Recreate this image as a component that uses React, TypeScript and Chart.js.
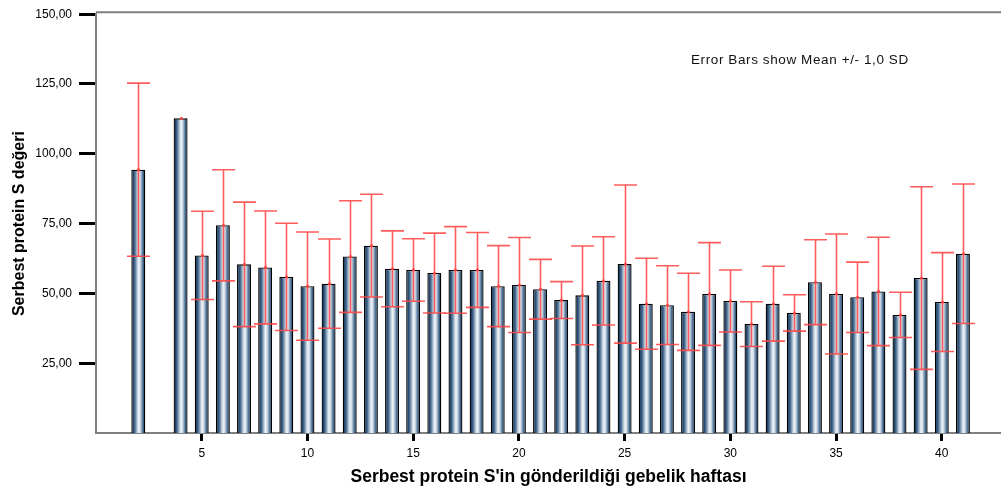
import React, { useEffect, useRef } from "react";
import { Chart, registerables } from "chart.js";

Chart.register(...registerables);

// Gestational week of sampling
const weeks = [2, 4, 5, 6, 7, 8, 9, 10, 11, 12, 13, 14, 15, 16, 17, 18, 19, 20, 21, 22, 23, 24, 25, 26, 27, 28, 29, 30, 31, 32, 33, 34, 35, 36, 37, 38, 39, 40, 41];

// Mean free protein S value per week
const means = [94.3, 112.7, 63.6, 74.4, 60.4, 59.3, 55.9, 52.6, 53.5, 63.2, 67.1, 58.8, 58.4, 57.3, 58.4, 58.4, 52.6, 53.0, 51.5, 47.6, 49.3, 54.5, 60.5, 46.3, 45.8, 43.4, 49.8, 47.3, 39.0, 46.3, 43.0, 54.0, 49.8, 48.6, 50.7, 42.3, 55.5, 46.9, 64.2];

// Standard deviation per week (null: single observation)
const sds: (number | null)[] = [31.0, null, 15.8, 19.9, 22.3, 20.2, 19.2, 19.4, 16.0, 20.0, 18.4, 13.6, 11.2, 14.3, 15.5, 13.4, 14.5, 17.0, 10.7, 6.6, 17.7, 15.8, 28.3, 16.3, 14.1, 13.8, 18.4, 11.1, 8.0, 13.4, 6.5, 15.2, 21.5, 12.6, 19.4, 8.1, 32.7, 17.7, 25.0];

const yTicks = [25, 50, 75, 100, 125, 150];
const xTicks = [5, 10, 15, 20, 25, 30, 35, 40];

const yTitle = "Serbest protein S değeri";
const xTitle = "Serbest protein S'in gönderildiği gebelik haftası";
const noteText = "Error Bars show Mean +/- 1,0 SD";

const FONT = "'Liberation Sans', Arial, sans-serif";
const BAR_PCT = 0.66;
const ERR_COLOR = "rgba(255, 70, 70, 0.88)";

const errorBarPlugin = {
  id: "errorBars",
  afterDatasetsDraw(chart: any) {
    const xs = chart.scales.x;
    const ys = chart.scales.y;
    const ctx = chart.ctx;
    ctx.save();
    ctx.strokeStyle = ERR_COLOR;
    ctx.fillStyle = ERR_COLOR;
    ctx.lineWidth = 1.6;
    const capHalf = 11.5;
    weeks.forEach((w, i) => {
      const x = Math.round(xs.getPixelForValue(w)) + 0.5;
      const m = means[i];
      const sd = sds[i];
      if (sd != null) {
        const yt = ys.getPixelForValue(m + sd);
        const yb = ys.getPixelForValue(m - sd);
        ctx.beginPath();
        ctx.moveTo(x, yt);
        ctx.lineTo(x, yb);
        ctx.moveTo(x - capHalf, yt);
        ctx.lineTo(x + capHalf, yt);
        ctx.moveTo(x - capHalf, yb);
        ctx.lineTo(x + capHalf, yb);
        ctx.stroke();
      }
      ctx.beginPath();
      ctx.arc(x, ys.getPixelForValue(m), 1.6, 0, Math.PI * 2);
      ctx.fill();
    });
    ctx.restore();
  },
};

const framePlugin = {
  id: "frame",
  afterDraw(chart: any) {
    const { ctx, chartArea } = chart;
    ctx.save();
    ctx.strokeStyle = "#808080";
    ctx.lineWidth = 2;
    ctx.beginPath();
    ctx.moveTo(chartArea.left, chartArea.top - 2);
    ctx.lineTo(chartArea.right, chartArea.top - 2);
    ctx.stroke();
    ctx.fillStyle = "#111";
    ctx.font = `13.5px ${FONT}`;
    (ctx as any).letterSpacing = "0.6px";
    ctx.textBaseline = "middle";
    ctx.textAlign = "left";
    ctx.fillText(noteText, 691, 60);
    ctx.restore();
  },
};

export default function App() {
  const ref = useRef<HTMLCanvasElement>(null);

  useEffect(() => {
    if (!ref.current) return;
    const chart = new Chart(ref.current, {
      type: "bar",
      data: {
        datasets: [
          {
            data: weeks.map((w, i) => ({ x: w, y: means[i] })),
            backgroundColor: (c: any) => {
              const ch = c.chart;
              const xs = ch.scales && ch.scales.x;
              if (!xs || !c.parsed) return "#4a6a8a";
              const cx = xs.getPixelForValue(c.parsed.x);
              const half = ((xs.getPixelForValue(1) - xs.getPixelForValue(0)) * BAR_PCT) / 2;
              if (!Number.isFinite(cx) || !Number.isFinite(half) || half <= 0) return "#4a6a8a";
              const g = ch.ctx.createLinearGradient(cx - half, 0, cx + half, 0);
              g.addColorStop(0, "#0c223c");
              g.addColorStop(0.12, "#1a3c62");
              g.addColorStop(0.26, "#4d7093");
              g.addColorStop(0.4, "#a9bdd0");
              g.addColorStop(0.52, "#eef3f8");
              g.addColorStop(0.64, "#d2dde8");
              g.addColorStop(0.78, "#6d8cab");
              g.addColorStop(0.9, "#254a70");
              g.addColorStop(1, "#0c223c");
              return g;
            },
            borderColor: "#000",
            borderWidth: 1.3,
            barPercentage: BAR_PCT,
            categoryPercentage: 1,
          },
        ],
      },
      options: {
        responsive: false,
        animation: false,
        layout: { padding: { top: 13, right: 0, left: 0, bottom: 0 } },
        plugins: { legend: { display: false }, tooltip: { enabled: false } },
        scales: {
          x: {
            type: "linear",
            min: 0,
            max: 42.8,
            offset: false,
            afterFit: (s: any) => {
              s.height = 70;
            },
            afterBuildTicks: (s: any) => {
              s.ticks = xTicks.map((v) => ({ value: v }));
            },
            ticks: {
              autoSkip: false,
              maxRotation: 0,
              padding: 5,
              color: "#000",
              font: { family: FONT, size: 12 },
              callback: (v: any) => String(v),
            },
            grid: {
              offset: false,
              drawOnChartArea: false,
              tickLength: 8,
              tickWidth: 3,
              tickColor: "#000",
            },
            border: { color: "#808080", width: 2 },
            title: {
              display: true,
              text: xTitle,
              color: "#000",
              font: { family: FONT, size: 17.5, weight: "bold" },
              padding: { top: 0, bottom: 15.5 },
            },
          },
          y: {
            min: 0,
            max: 150,
            afterFit: (s: any) => {
              s.width = 96;
            },
            afterBuildTicks: (s: any) => {
              s.ticks = yTicks.map((v) => ({ value: v }));
            },
            ticks: {
              padding: 7,
              color: "#000",
              font: { family: FONT, size: 12 },
              callback: (v: any) => Number(v).toFixed(2).replace(".", ","),
            },
            grid: {
              drawOnChartArea: false,
              tickLength: 17,
              tickWidth: 3,
              tickColor: "#000",
            },
            border: { color: "#808080", width: 2 },
            title: {
              display: true,
              text: yTitle,
              color: "#000",
              font: { family: FONT, size: 16, weight: "bold" },
              padding: { top: 10, bottom: 0 },
            },
          },
        },
      },
      plugins: [errorBarPlugin, framePlugin],
    } as any);
    return () => chart.destroy();
  }, []);

  return (
    <div style={{ position: "absolute", left: 0, top: 0, width: 1001, height: 503, background: "#fff" }}>
      <canvas ref={ref} width={1001} height={503} style={{ width: 1001, height: 503 }} />
    </div>
  );
}
